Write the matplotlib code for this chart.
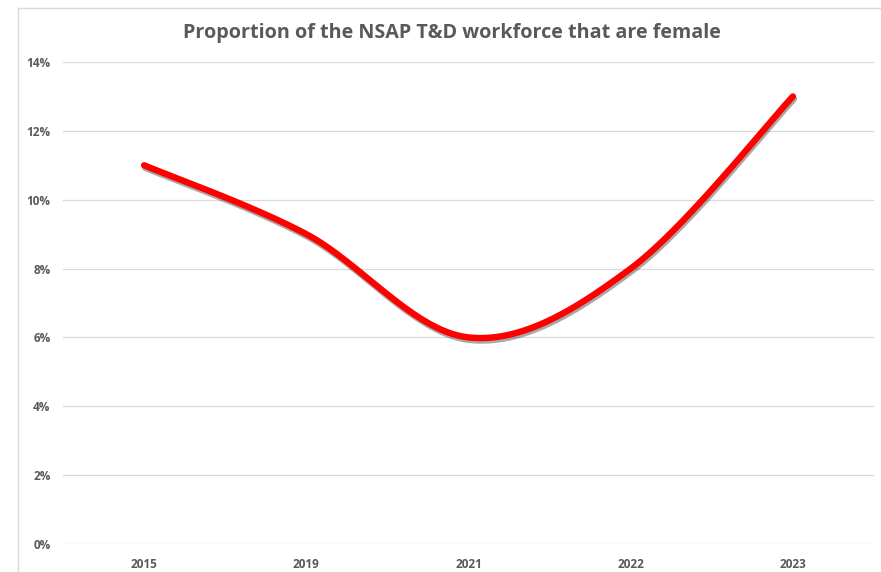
import numpy as np
import matplotlib
matplotlib.use("Agg")
import matplotlib.pyplot as plt
from matplotlib import patheffects as pe
from matplotlib.patches import Rectangle
from matplotlib.ticker import FuncFormatter

years = ["2015", "2019", "2021", "2022", "2023"]
female_share = [11, 9, 6, 8, 13]  # percent
title = "Proportion of the NSAP T&D workforce that are female"

W, H = 881, 572
fig = plt.figure(figsize=(W / 100, H / 100), dpi=100)
fig.patch.set_facecolor("white")

# outer chart frame (continues past the right and bottom edges)
fig.patches.append(Rectangle((18 / W, -0.05), 1.2, (H - 8) / H + 0.05,
                             transform=fig.transFigure, fill=False,
                             edgecolor="#d9d9d9", linewidth=1.0))

ax = fig.add_axes([63 / W, 1 - 544 / H, (874 - 63) / W, (544 - 62) / H])

x = np.arange(len(years), dtype=float)
y = np.array(female_share, dtype=float)


def smooth_bezier(xs, ys, n=60):
    """Cubic Bezier smoothing through every point (spreadsheet-style)."""
    px = np.concatenate([[xs[0]], xs, [xs[-1]]])
    py = np.concatenate([[ys[0]], ys, [ys[-1]]])
    out_x, out_y = [], []
    t = np.linspace(0, 1, n)
    for i in range(1, len(px) - 2):
        p0 = np.array([px[i], py[i]])
        p3 = np.array([px[i + 1], py[i + 1]])
        c1 = p0 + (np.array([px[i + 1], py[i + 1]]) - np.array([px[i - 1], py[i - 1]])) / 6
        c2 = p3 - (np.array([px[i + 2], py[i + 2]]) - np.array([px[i], py[i]])) / 6
        b = ((1 - t) ** 3)[:, None] * p0 + (3 * (1 - t) ** 2 * t)[:, None] * c1 \
            + (3 * (1 - t) * t ** 2)[:, None] * c2 + (t ** 3)[:, None] * p3
        out_x.extend(b[:, 0])
        out_y.extend(b[:, 1])
    return np.array(out_x), np.array(out_y)


sx, sy = smooth_bezier(x, y)
ax.plot(sx, sy, color="#ff0000", linewidth=4.6, solid_capstyle="round",
        solid_joinstyle="round", zorder=3,
        path_effects=[pe.SimpleLineShadow(offset=(0.8, -1.8), shadow_color="#404040", alpha=0.45),
                      pe.Normal()])

ax.set_xlim(-0.5, len(years) - 0.5)
ax.set_ylim(0, 14)
ax.set_yticks(np.arange(0, 15, 2))
ax.yaxis.set_major_formatter(FuncFormatter(lambda v, p: f"{v:.0f}%"))
ax.set_xticks(x)
ax.set_xticklabels(years)
ax.grid(axis="y", color="#d9d9d9", linewidth=0.9)
ax.set_axisbelow(True)
for s in ax.spines.values():
    s.set_visible(False)
ax.tick_params(axis="both", length=0, colors="#595959")
ax.tick_params(axis="y", pad=9)
ax.tick_params(axis="x", pad=10)
for lab in ax.get_xticklabels() + ax.get_yticklabels():
    lab.set_fontfamily("Open Sans")
    lab.set_fontweight("bold")
    lab.set_fontsize(8.5)

fig.text(452 / W, 1 - 33 / H, title, ha="center", va="center",
         fontfamily="Open Sans", fontweight="bold", fontsize=14.2, color="#595959")

fig.savefig("out.png", dpi=100)
